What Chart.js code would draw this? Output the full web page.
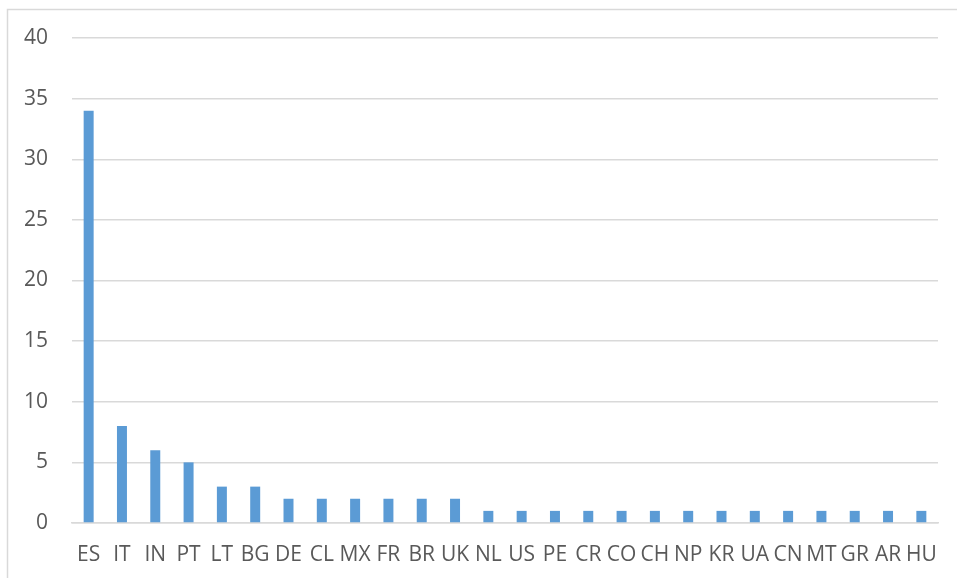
<!DOCTYPE html>
<html>
<head>
<meta charset="utf-8">
<script src="https://cdn.jsdelivr.net/npm/chart.js@4"></script>
<style>
html,body{margin:0;padding:0;background:#fff;}
#wrap{position:relative;width:957px;height:578px;}
</style>
</head>
<body>
<div id="wrap"><canvas id="c" width="957" height="578"></canvas></div>
<script>
const categories = ["ES","IT","IN","PT","LT","BG","DE","CL","MX","FR","BR","UK","NL","US","PE","CR","CO","CH","NP","KR","UA","CN","MT","GR","AR","HU"];
const values = [34,8,6,5,3,3,2,2,2,2,2,2,1,1,1,1,1,1,1,1,1,1,1,1,1,1];
const yTicks = [0,5,10,15,20,25,30,35,40];

const frame = {
  id: 'frame',
  beforeDraw(chart) {
    const ctx = chart.ctx;
    ctx.save();
    ctx.strokeStyle = '#d9d9d9';
    ctx.lineWidth = 1.5;
    ctx.beginPath();
    ctx.moveTo(7.5, 578);
    ctx.lineTo(7.5, 9.5);
    ctx.lineTo(957, 9.5);
    ctx.stroke();
    ctx.restore();
  }
};

new Chart(document.getElementById('c'), {
  type: 'bar',
  data: {
    labels: categories,
    datasets: [{
      data: values,
      backgroundColor: '#5b9bd5',
      barPercentage: 0.3,
      categoryPercentage: 1.0
    }]
  },
  plugins: [frame],
  options: {
    responsive: false,
    animation: false,
    devicePixelRatio: 1,
    layout: { padding: { left: 0, right: 19, top: 38, bottom: 0 } },
    plugins: { legend: { display: false }, tooltip: { enabled: false } },
    scales: {
      x: {
        grid: { display: false, drawTicks: false },
        border: { display: true, color: '#d9d9d9', width: 1.5 },
        ticks: {
          autoSkip: false, maxRotation: 0, minRotation: 0,
          color: '#595959', padding: 19,
          font: { family: 'Open Sans', size: 21 }
        },
        afterFit(s) { s.height = 55; }
      },
      y: {
        min: 0, max: 40,
        afterBuildTicks(s) { s.ticks = yTicks.map(v => ({ value: v })); },
        grid: { color: '#d9d9d9', lineWidth: 1.5, drawTicks: false },
        border: { display: false },
        ticks: {
          color: '#595959', padding: 24,
          font: { family: 'Open Sans', size: 21 }
        },
        afterFit(s) { s.width = 72; }
      }
    }
  }
});
</script>
</body>
</html>
